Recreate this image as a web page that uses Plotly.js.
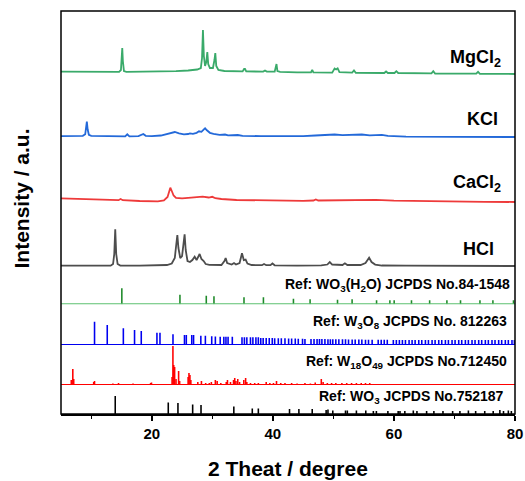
<!DOCTYPE html>
<html>
<head>
<meta charset="utf-8">
<script src="https://cdn.plot.ly/plotly-3.0.1.min.js"></script>
<style>html,body{margin:0;padding:0;background:#fff;}#chart{width:525px;height:481px;}</style>
</head>
<body>
<div id="chart"></div>
<script>
// ---------- Sample spectra (2θ in degrees, intensity in a.u.) ----------
const mgcl2X = [5,8,12,14.6,14.9,15.02,15.12,15.22,15.4,15.8,20,24,26,27.5,28.1,28.3,28.45,28.6,28.8,29.0,29.17,29.32,29.6,30.1,30.35,30.49,30.65,31,32,35,35.25,35.4,35.6,38.4,38.7,39,40.3,40.5,40.6,40.75,41.2,44,46.3,46.5,46.7,49.8,50.2,50.45,50.7,51,53.1,53.4,53.7,58.4,58.7,59,60.1,60.4,60.7,66.2,66.5,66.8,73.6,73.9,74.2,80];
const mgcl2Y = [2.3,2.5,2.3,2.2,4,14,26,13,3,2.2,2.2,2.8,3.5,4.5,6,16,44,18,8,12,22,10,6,6,14,21,8,4,3,2.6,5,5,2.6,2.4,3.5,2.4,2.4,9,10,3,2.2,1.6,1.6,4,1.6,1.4,5.5,4.5,5.7,1.8,1.4,3.5,1.2,1,2.5,1,1,2.8,1,0.6,2.8,0.5,0.3,2.2,0.2,0];

const kclX = [5,7,8.6,9.0,9.15,9.27,9.4,9.6,10,12,15.6,15.95,16.3,17.8,18.3,18.6,19.0,20,21.5,22.5,23.3,23.8,24.5,25.3,26.0,26.3,26.8,27.4,27.8,28.2,28.6,28.8,29.1,29.6,30.2,30.7,31.2,32.1,32.6,34.2,35,38,42,45,47,49,50.2,51.5,53,54.7,56,58,59,62,70,80];
const kclY = [1.2,1.4,1.5,3,10,15.6,8,2.5,1.5,1.2,1,3,1,1.2,3,3.3,1.5,1.2,1.8,3.5,5,5.3,4,3,3.3,4,3.5,4.5,6,5.5,8,9,7,4.5,3.5,3.2,2.5,2.8,2,2.3,1.5,1.2,1,1.2,1.8,2.2,2.8,2.2,2.3,2.8,2,2.4,1.4,0.7,0.5,0.3];

const cacl2X = [5,8,11,14.5,14.85,15.2,18,20,21,22,22.6,22.9,23.06,23.3,23.6,24,25,26.5,27.5,28.4,29.4,30,30.5,31.5,34,38,42,45,46.7,47.1,47.5,50,53,55,57,60,65,70,75,80];
const cacl2Y = [3.7,3,2.3,1.8,3,1.8,1,0.5,0.6,1.5,5,11,14.3,11,6.5,4.2,3.7,4.3,4.8,5.3,4.5,5.2,3.8,3,2,1.5,1.1,1.2,1.5,2.6,1.5,1.5,1.8,2.1,2.1,1.3,0.7,0.4,0.2,0];

const hclX = [5,9,13.2,13.6,13.8,13.96,14.12,14.35,14.8,18,21,22.5,23.3,23.8,24.05,24.22,24.4,24.7,25.0,25.25,25.42,25.6,25.9,26.3,26.7,27.08,27.4,27.9,28.2,28.57,28.9,29.5,31.5,32.0,32.2,32.45,33.2,33.58,33.9,34.5,34.9,35.2,35.5,35.8,36.5,38.2,38.54,38.9,39.6,39.93,40.3,44,48,49,49.4,49.8,51.5,51.9,52.3,54.5,55.3,55.9,56.3,56.9,58,62,70,80];
const hclY = [0.3,0.3,0.3,2,12,36.7,12,2,0.4,0.3,0.5,1,2.5,8,22,31,18,8,10,24,31.7,16,5,4,6,9.3,6,12,7,5,2,1.2,1,5,8,3,1.5,3,1.5,3,12.7,6,6.5,2.5,1,0.8,2,0.8,0.8,2.5,0.7,0.4,0.6,1.5,4,1.5,1,2.7,1,1,3,8.3,4,1.5,0.5,0.3,0.2,0];

const sampleNames = ["MgCl<sub>2</sub>", "KCl", "CaCl<sub>2</sub>", "HCl"];

// ---------- Reference patterns (2θ, relative intensity) ----------
const refWO3H2OX = [15.05,24.65,29.0,30.27,35.23,38.44,43.4,46.15,50.68,53.09,57.13,59.33,60.04,62.9,65.9,68.75,71.0,74.21,76.35,79.75];
const refWO3H2OY = [16,9.5,8.5,8,7,7,5.5,5,4.5,5,4,4,4,4,4,4,4,4,4,4];

const refW3O8X = [10.54,12.64,15.3,17.15,18.26,20.85,21.35,23.5,25.4,25.7,26.6,26.9,28.1,28.85,29.9,30.5,31.3,31.9,32.25,32.6,33.3,34.9,35.3,35.7,36.3,36.7,37.2,37.6,38.0,38.4,38.9,39.4,39.9,40.3,40.9,41.4,42.0,42.6,43.1,43.7,44.2,44.9,45.3,46.3,46.8,47.3,47.7,48.1,48.6,49.1,49.5,49.9,50.4,50.9,51.5,52.0,52.5,53.1,53.6,54.2,54.7,55.3,55.8,56.4,57.4,57.9,58.4,58.9,59.9,60.4,60.9,61.4,61.9,62.5,63.0,63.5,64.1,64.6,65.2,65.7,66.3,66.8,67.4,67.9,68.5,69.0,69.6,70.1,70.7,71.2,71.8,72.3,72.9,73.4,74.0,74.5,75.1,75.6,76.2,76.7,77.3,77.8,78.4,78.9,79.5,79.9];
const refW3O8Y = [23.3,20,16.7,15,14,12.3,12.3,10.7,10,10,10,10,9.3,9.3,8.7,8.5,8.3,8.3,8.3,8.3,8.3,7.7,7.7,7.7,7.7,7.7,7.7,7.7,7,7,7,7,7,6.7,6.7,6.7,6.7,6.5,6.5,6.5,6.3,6.3,6,6,6,6,6,6,6,5.8,5.8,5.8,5.8,5.7,5.7,5.7,5.5,5.5,5.5,5.5,5.5,5.3,5.3,5.3,5.3,5.2,5.2,5.2,5,5,5,5,5,5,5,5,5,5,5,5,5,5,5,5,5,5,5,5,5,5,5,5,5,5,5,5,5,5,5,5,5,5,5,5,5,5];

const refW18O49X = [6.7,6.95,7.1,10.4,10.54,13.57,14.5,16.9,19.8,19.95,23.35,23.49,23.62,23.77,24.0,24.43,24.6,26.0,26.14,26.3,26.45,27.6,28.2,28.9,29.5,29.84,30.5,30.8,31.4,32.3,32.5,33.0,33.5,33.7,33.9,34.2,34.5,35.2,35.5,35.7,36.3,37.0,37.6,38.9,39.5,40.1,40.6,41.3,42.0,43.1,44.0,45.3,46.2,47.0,48.0,48.3,49.0,49.7,50.4,51.4,52.2,53.0,53.8,54.6,55.3,56.0];
const refW18O49Y = [5,16,6,3,4,1.5,2,1.5,2,2.5,8,39,20,18,6,14,4,8,12,10,5,3,4,2,2,3,5,4,2,3,5,3,5,7,4,6,3,5,7,3,2,2,2,3,2,2,4,2,2,2,1.5,2,1.5,2.5,6,3,2,2,2,2,2,2,2,2,2,2];

const refWO3X = [13.96,22.72,24.32,26.75,28.13,33.55,36.6,37.6,42.75,44.3,46.5,48.8,49.1,49.9,52.0,52.3,53.8,55.35,56.6,57.1,59.0,60.7,61.0,61.8,63.2,63.8,65.4,66.6,68.1,69.7,70.9,72.3,73.5,75.0,76.4,77.5,78.1,78.9,79.4];
const refWO3Y = [18,11.5,11,9.5,9,7.5,5.5,5.5,5,5,5,4,4.5,3.5,3.5,3.5,3.5,3.5,3,3,3,3,3,3,3.5,3,3,3,3,3,3,3.5,3,3,3,4,3,3.5,3];

const refNames = [
  "Ref: WO<sub>3</sub>(H<sub>2</sub>O) JCPDS No.84-1548",
  "Ref: W<sub>3</sub>O<sub>8</sub> JCPDS No. 812263",
  "Ref: W<sub>18</sub>O<sub>49</sub> JCPDS No.712450",
  "Ref: WO<sub>3</sub> JCPDS No.752187"
];
const tickLabels = ["20", "40", "60", "80"];

// ---------- Styling ----------
const FONT = "Arial, 'Liberation Sans', sans-serif";
const sampleColors = ["#3aaa6a", "#2369d9", "#ee3a3a", "#4d4d4d"];
const sampleOffsets = [194.9, 131.6, 66.9, 2.9];
const sampleXs = [mgcl2X, kclX, cacl2X, hclX];
const sampleYs = [mgcl2Y, kclY, cacl2Y, hclY];

const traces = [];
for (let i = 0; i < 4; i++) {
  traces.push({
    type: "scatter", mode: "lines",
    x: sampleXs[i],
    y: sampleYs[i].map(v => v + sampleOffsets[i]),
    xaxis: "x", yaxis: "y5",
    line: {color: sampleColors[i], width: 1.8},
    hoverinfo: "skip"
  });
}
function sticks(x, y, yaxis, color) {
  return {type: "bar", x: x, y: y, yaxis: yaxis, xaxis: "x", width: 0.26,
          marker: {color: color, line: {width: 0}}, hoverinfo: "skip"};
}
traces.push(sticks(refWO3H2OX, refWO3H2OY, "y4", "#1f8a2a"));
traces.push(sticks(refW3O8X, refW3O8Y, "y3", "#0000f0"));
traces.push(sticks(refW18O49X, refW18O49Y, "y2", "#ff0000"));
traces.push(sticks(refWO3X, refWO3Y, "y", "#000000"));

function hiddenY(domain, range) {
  return {domain: domain, range: range, anchor: "x", visible: false, fixedrange: true};
}

const annotations = [];
const labelPos = [[0.9742, 0.881], [0.967, 0.7315], [0.9742, 0.573], [0.958, 0.41]];
for (let i = 0; i < 4; i++) {
  annotations.push({xref: "paper", yref: "paper", x: labelPos[i][0], y: labelPos[i][1],
    xanchor: "right", yanchor: "middle", showarrow: false,
    text: "<b>" + sampleNames[i] + "</b>", font: {family: FONT, size: 18, color: "#000"}});
}
const refPos = [[0.9934, 0.32], [0.9874, 0.228], [0.9874, 0.130], [0.9802, 0.042]];
for (let i = 0; i < 4; i++) {
  annotations.push({xref: "paper", yref: "paper", x: refPos[i][0], y: refPos[i][1],
    xanchor: "right", yanchor: "middle", showarrow: false,
    text: "<b>" + refNames[i] + "</b>", font: {family: FONT, size: 14, color: "#000"}});
}
annotations.push({xref: "paper", yref: "paper", x: 0.5, y: -0.134, xanchor: "center", yanchor: "middle",
  showarrow: false, text: "<b>2 Theat / degree</b>", font: {family: FONT, size: 21, color: "#000"}});
annotations.push({xref: "paper", yref: "paper", x: -0.087, y: 0.5335, xanchor: "center", yanchor: "middle",
  textangle: -90, showarrow: false, text: "<b>Intensity / a.u.</b>", font: {family: FONT, size: 21, color: "#000"}});

const layout = {
  width: 525, height: 481,
  margin: {l: 61, r: 10, t: 11, b: 67},
  paper_bgcolor: "#fff", plot_bgcolor: "#fff",
  showlegend: false, barmode: "overlay",
  xaxis: {
    range: [5, 80], domain: [0, 1], anchor: "y",
    tickmode: "array", tickvals: tickLabels.map(Number), ticktext: tickLabels,
    ticks: "outside", ticklen: 5, tickwidth: 1.5, tickcolor: "#000",
    showline: true, linewidth: 1.5, linecolor: "#000",
    showgrid: false, zeroline: false, fixedrange: true,
    tickfont: {family: FONT, size: 15, color: "#000", weight: "bold"},
    minor: {tickmode: "array", tickvals: [10, 30, 50, 70], ticks: "outside", ticklen: 3, tickwidth: 1.5, tickcolor: "#000", showgrid: false}
  },
  yaxis:  hiddenY([0, 0.072], [0, 29]),
  yaxis2: hiddenY([0.072, 0.1712], [0, 40]),
  yaxis3: hiddenY([0.1712, 0.2722], [0, 40.7]),
  yaxis4: hiddenY([0.2722, 0.36], [0, 35.4]),
  yaxis5: hiddenY([0.36, 1], [0, 257.9]),
  shapes: [
    {type: "line", xref: "paper", x0: 0, x1: 1, yref: "y4", y0: 0, y1: 0, line: {color: "#5cc170", width: 2}, layer: "above"},
    {type: "line", xref: "paper", x0: 0, x1: 1, yref: "y3", y0: 0, y1: 0, line: {color: "#0000f0", width: 2}, layer: "above"},
    {type: "line", xref: "paper", x0: 0, x1: 1, yref: "y2", y0: 0, y1: 0, line: {color: "#ff0000", width: 2}, layer: "above"},
    {type: "rect", xref: "paper", yref: "paper", x0: 0, x1: 1, y0: 0, y1: 1, line: {color: "#000", width: 1.5}, fillcolor: "rgba(0,0,0,0)", layer: "above"}
  ],
  annotations: annotations
};

Plotly.newPlot("chart", traces, layout, {staticPlot: true, displayModeBar: false});
</script>
</body>
</html>
